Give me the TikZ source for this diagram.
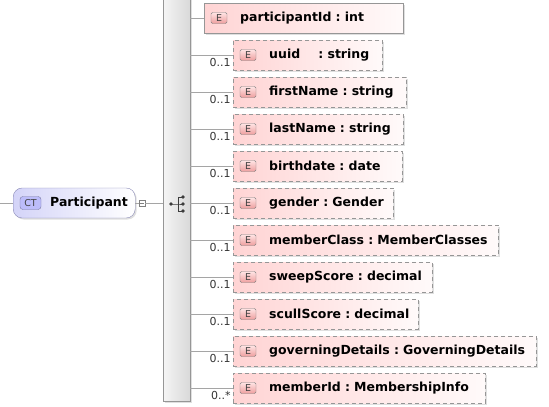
\documentclass[tikz,border=0pt]{standalone}
\usepackage{fontspec}
\setmainfont{DejaVu Sans}
\usetikzlibrary{positioning,shadows}

\definecolor{elemrosa}{RGB}{255,212,212}
\definecolor{elemclaro}{RGB}{255,250,250}
\definecolor{bordegris}{RGB}{150,150,150}
\definecolor{lineagris}{RGB}{165,165,165}
\definecolor{ctlila}{RGB}{212,212,248}
\definecolor{ctborde}{RGB}{135,135,180}
\definecolor{iconogris}{RGB}{60,60,60}

\tikzset{
	sombra/.style={drop shadow={shadow xshift=1.5pt, shadow yshift=-1.5pt, opacity=.25, fill=gray}},
	elem/.style={draw=bordegris, left color=elemrosa, right color=elemclaro, anchor=west,
		minimum height=30pt, inner xsep=0pt, inner ysep=0pt, text width=#1, align=left,
		font=\fontsize{12.5}{15}\selectfont\bfseries,
		execute at begin node={\hspace*{36pt}}, sombra},
	opcional/.style={elem=#1, dash pattern=on 4pt off 3pt},
	ebadge/.style={draw=gray, rounded corners=1.5pt, minimum width=16pt, minimum height=11pt,
		inner sep=0pt, top color={rgb,255:red,255;green,228;blue,228},
		bottom color={rgb,255:red,238;green,158;blue,158},
		font=\fontsize{9.5}{10}\selectfont, text=black!75},
	mult/.style={pos=1, anchor=north east, inner sep=0pt, xshift=-2pt, yshift=-3pt,
		font=\fontsize{11}{12}\selectfont, text=black!80},
	linea/.style={draw=lineagris, line width=0.7pt}
}

\begin{document}
\begin{tikzpicture}[x=1pt, y=1pt,
		grow'=right,
		level 1/.style={level distance=57pt, sibling distance=37pt},
		edge from parent/.style={linea},
		edge from parent path={(bar.east |- \tikzchildnode.west) -- (\tikzchildnode.west)}
	]
	\useasboundingbox (0,-407) rectangle (549,0);

	% Tipo complejo
	\coordinate (entrada) at (0,-203);
	\node[draw=ctborde, rounded corners=9pt, left color=ctlila, right color=white, anchor=west,
		minimum height=30pt, inner xsep=0pt, text width=122pt, align=left,
		font=\fontsize{12.5}{15}\selectfont\bfseries, sombra] (part) at (13,-203)
		{\hspace*{37pt}Participant};
	\node[draw=ctborde!90!black, rounded corners=3pt, fill=ctlila!85!blue!90, minimum width=21pt,
		minimum height=13pt, inner sep=0pt, font=\fontsize{9.5}{10}\selectfont, text=black!75]
		(ct) at ([xshift=17.5pt]part.west) {CT};
	\node[draw=gray, fill=white, minimum size=6.5pt, inner sep=0pt,
		path picture={\draw[gray] ([xshift=1.5pt]path picture bounding box.west) -- ([xshift=-1.5pt]path picture bounding box.east);}]
		(minus) at (142,-203) {};

	% Secuencia
	\node[draw=bordegris, left color=black!4, right color=black!15, minimum width=27pt,
		minimum height=404pt, inner sep=0pt, sombra] (bar) at (176.5,-199) {};
	\draw[linea] (entrada) -- (part.west);
	\draw[linea] (part.east) -- (minus.west);
	\draw[linea] (minus.east) -- (minus -| bar.west);
	\begin{scope}[shift={(176,-203)}, iconogris, line width=0.9pt]
		\draw (-5,-1) -- (2,-1) -- (7,-1);
		\draw (7,6) -- (2,6) -- (2,-8) -- (7,-8);
		\foreach \p in {(-5,-1),(7,6),(7,-1),(7,-8)} \fill \p circle (1.9pt);
	\end{scope}

	% Elementos
	\node[coordinate] (seq) at (176,-203) {}
	child { node[elem=199pt, xshift=-29pt] {participantId~:~int} }
	child { node[opcional=149pt] {uuid\hspace*{14pt}~:~string}
			edge from parent node[mult] {0..1} }
	child { node[opcional=173pt] {firstName~:~string}
			edge from parent node[mult] {0..1} }
	child { node[opcional=170pt] {lastName~:~string}
			edge from parent node[mult] {0..1} }
	child { node[opcional=169pt] {birthdate~:~date}
			edge from parent node[mult] {0..1} }
	child { node[opcional=160pt] {gender~:~Gender}
			edge from parent node[mult] {0..1} }
	child { node[opcional=265pt] {memberClass~:~MemberClasses}
			edge from parent node[mult] {0..1} }
	child { node[opcional=199pt] {sweepScore~:~decimal}
			edge from parent node[mult] {0..1} }
	child { node[opcional=185pt] {scullScore~:~decimal}
			edge from parent node[mult] {0..1} }
	child { node[opcional=303pt] {governingDetails~:~GoverningDetails}
			edge from parent node[mult] {0..1} }
	child { node[opcional=252pt] {memberId~:~MembershipInfo}
			edge from parent node[mult] {0..*} };

	% Etiquetas E
	\foreach \i in {1,...,11}
		\node[ebadge] (e\i) at ([xshift=15pt]seq-\i.west) {E};
\end{tikzpicture}
\end{document}
